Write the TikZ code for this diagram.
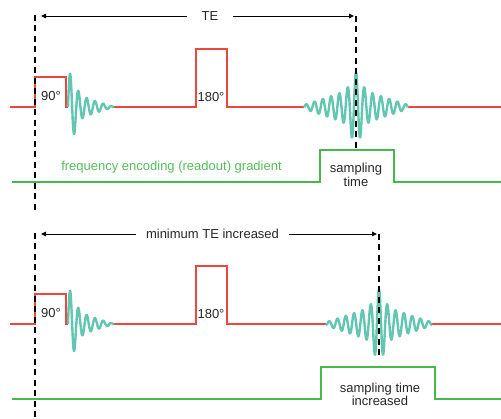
\documentclass[tikz,border=0pt]{standalone}
\usepackage{fontspec}
\setmainfont{Liberation Sans}
\usetikzlibrary{arrows.meta}
\definecolor{rfred}{RGB}{236,72,62}
\definecolor{sigteal}{RGB}{98,198,178}
\definecolor{gradgreen}{RGB}{72,184,76}
\definecolor{txtgreen}{RGB}{84,190,90}
\begin{document}
\begin{tikzpicture}[x=1pt,y=-1pt,
  rf/.style={rfred,line width=1.6pt,line join=miter},
  sig/.style={sigteal,line width=2.4pt,line join=round},
  grad/.style={gradgreen,line width=1.6pt},
  marker/.style={black,line width=1.5pt,dash pattern=on 6pt off 4.5pt},
  span/.style={black,line width=0.9pt,-{Triangle[length=5pt,width=4.5pt]}},
  lbl/.style={font=\fontsize{13}{14}\selectfont,text=black!85,inner sep=0pt},
]
\useasboundingbox (0,0) rectangle (501,419);

% ---------- RF lines, FIDs and echoes (two panels) ----------
\foreach \dy/\ec/\hw/\i in {0/356/52/a, 217/379/53/b}{
  \begin{scope}[shift={(0,\dy)}]
    \draw[rf] (10,107) -- (35,107) -- (35,77) -- (66,77) -- (66,107) -- (68,107);
    \draw[rf] (114,107) -- (196,107) -- (196,49) -- (227,49) -- (227,107) -- ({\ec-\hw},107);
    \draw[rf] ({\ec+\hw},107) -- (501,107);
    % FID
    \draw[sig] plot[domain=0:46,samples=220,smooth,variable=\t]
      ({68+\t},{107-(14*(1-\t/46)+20/(1+(\t*\t/64)*(\t*\t/64)))*sin(43.373*\t)});
    % echo
    \draw[sig] plot[domain=-\hw:\hw,samples=260,smooth,variable=\t]
      ({\ec+\t},{107-(16/(1+(\t*\t/36)*(\t*\t/36))+19*(1-abs(\t)/58))*cos(43.373*\t)});
    \node[lbl] (p90\i) at (51,96) {90°};
    \node[lbl] (p180\i) at (211,97) {180°};
  \end{scope}
}

% ---------- readout gradients ----------
\draw[grad] (12,182) -- (320,182) -- (320,150) -- (394,150) -- (394,182) -- (501,182);
\draw[grad] (12,399) -- (321,399) -- (321,367) -- (435,367) -- (435,399) -- (501,399);

\node[lbl,text=txtgreen] (fe) at (171.5,167) {frequency encoding (readout) gradient};
\node[lbl,align=center,font=\fontsize{13}{14}\selectfont] (st1) at (356,175) {sampling\\time};
\node[lbl,align=center,font=\fontsize{13}{13.5}\selectfont] (st2) at (380,394.5) {sampling time\\increased};

% ---------- dashed time markers ----------
\coordinate (m1t) at (35,15);  \coordinate (m1b) at (35,212);
\coordinate (m2t) at (356,16); \coordinate (m2b) at (356,150);
\coordinate (m3t) at (35,233); \coordinate (m3b) at (35,419);
\coordinate (m4t) at (379,234); \coordinate (m4b) at (379,355);
\draw[marker] (m1t) -- (m1b);
\draw[marker] (m2t) -- (m2b);
\draw[marker] (m3t) -- (m3b);
\draw[marker] (m4t) -- (m4b);

% ---------- TE arrows ----------
\node[lbl,inner xsep=14pt] (TE) at (210,16) {TE};
\coordinate (teL) at (41,16); \coordinate (teR) at (354,16);
\draw[span] (TE.west) -- (teL);
\draw[span] (TE.east) -- (teR);

\node[lbl,inner xsep=10pt] (minTE) at (212.5,234) {minimum TE increased};
\coordinate (mtL) at (41,234); \coordinate (mtR) at (377,234);
\draw[span] (minTE.west) -- (mtL);
\draw[span] (minTE.east) -- (mtR);
\end{tikzpicture}
\end{document}
